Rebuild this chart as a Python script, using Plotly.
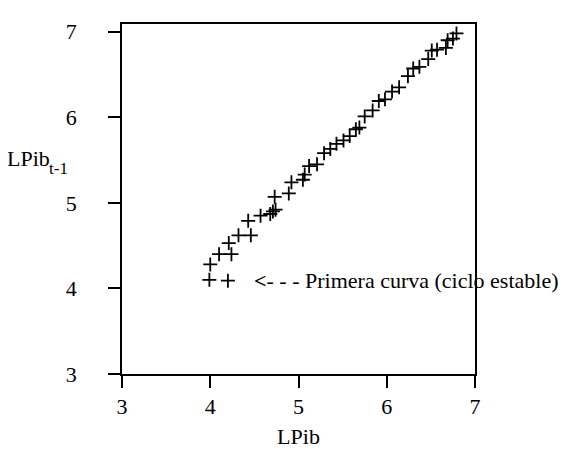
import plotly.graph_objects as go

# LPib (x) and LPib_{t-1} (y)
lpib = [3.99, 4.20, 4.00, 4.10, 4.24, 4.21, 4.32, 4.46, 4.43, 4.57, 4.68, 4.71,
        4.74, 4.73, 4.89, 4.92, 5.05, 5.07, 5.12, 5.21, 5.29, 5.36, 5.43, 5.51,
        5.58, 5.65, 5.69, 5.75, 5.84, 5.91, 5.98, 6.06, 6.14, 6.24, 6.30, 6.37,
        6.47, 6.51, 6.57, 6.67, 6.69, 6.75, 6.79]
lpib_lag = [4.10, 4.09, 4.28, 4.40, 4.40, 4.53, 4.62, 4.62, 4.79, 4.85, 4.87, 4.90,
            4.92, 5.07, 5.11, 5.24, 5.27, 5.33, 5.43, 5.45, 5.58, 5.63, 5.69, 5.73,
            5.78, 5.86, 5.88, 6.01, 6.08, 6.19, 6.21, 6.30, 6.35, 6.48, 6.57, 6.59,
            6.68, 6.78, 6.79, 6.81, 6.90, 6.92, 6.98]

tick_vals = [3, 4, 5, 6, 7]
tick_text = ["3", "4", "5", "6", "7"]

FONT = "Liberation Serif"

fig = go.Figure()
fig.add_trace(go.Scatter(
    x=lpib, y=lpib_lag, mode="markers",
    marker=dict(symbol="cross-thin", size=10, color="black",
                line=dict(color="black", width=1.8)),
    showlegend=False, cliponaxis=False,
))

fig.add_annotation(
    x=4.47, y=4.09, xref="x", yref="y", xanchor="left", yanchor="middle",
    text="<b>&lt;</b>- - - Primera curva (ciclo estable)",
    showarrow=False, font=dict(family=FONT, size=22, color="black"),
)
# y-axis title: "LPib" with subscript "t-1"
fig.add_annotation(
    x=-0.329, y=5.52, xref="paper", yref="y", xanchor="left", yanchor="middle",
    text="LPib", showarrow=False, borderpad=0,
    font=dict(family=FONT, size=22, color="black"),
)
fig.add_annotation(
    x=-0.209, y=5.40, xref="paper", yref="y", xanchor="left", yanchor="middle",
    text="t-1", showarrow=False, borderpad=0,
    font=dict(family=FONT, size=17, color="black"),
)

axis_common = dict(
    showgrid=False, zeroline=False, showline=True, linecolor="black",
    linewidth=1.6, mirror=True, ticks="outside", ticklen=12, tickwidth=1.6,
    tickcolor="black", tickvals=tick_vals, ticktext=tick_text,
    tickfont=dict(family=FONT, size=22, color="black"),
)

fig.update_xaxes(range=[3, 7],
                 title=dict(text="LPib", font=dict(family=FONT, size=22, color="black"), standoff=10),
                 **axis_common)
fig.update_yaxes(range=[3, 7.09], ticklabelstandoff=27, **axis_common)

fig.update_layout(
    width=566, height=449,
    margin=dict(l=114, r=99, t=15, b=70),
    paper_bgcolor="white", plot_bgcolor="white",
    font=dict(family=FONT, size=22, color="black"),
)

fig.write_html("out.html")
